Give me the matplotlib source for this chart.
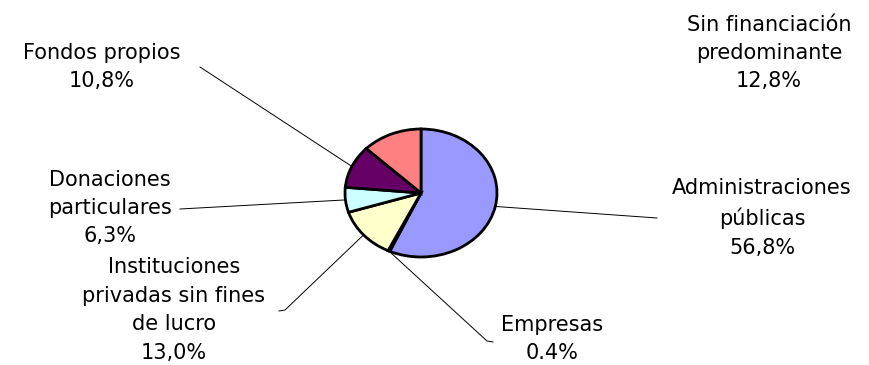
import matplotlib
matplotlib.use("Agg")
import matplotlib.pyplot as plt
import numpy as np

# data
categories = ['Administraciones\npúblicas', 'Empresas', 'Instituciones\nprivadas sin fines\nde lucro',
              'Donaciones\nparticulares', 'Fondos propios', 'Sin financiación\npredominante']
values = [56.8, 0.4, 13.0, 6.3, 10.8, 12.8]
pct_labels = ['56,8%', '0.4%', '13,0%', '6,3%', '10,8%', '12,8%']
colors = ['#9999FF', '#000080', '#FFFFCC', '#CCFFFF', '#660066', '#FF8080']

W, H = 869, 365
CX, CY, RX, RY = 421, 193, 76, 64  # pie centre and radii in pixels


def px(x, y):
    # pixel position -> data coords (pie of radius 1 at origin)
    return (x - CX) / RX, (CY - y) / RY


fig = plt.figure(figsize=(W / 100, H / 100), dpi=100)
ax = fig.add_axes([0, 0, 1, 1])
wedges, _ = ax.pie(values, colors=colors, startangle=90, counterclock=False,
                   wedgeprops=dict(edgecolor='black', linewidth=2.0))
ax.set_aspect('auto')
ax.set_xlim(px(0, 0)[0], px(W, 0)[0])
ax.set_ylim(px(0, H)[1], px(0, 0)[1])
ax.axis('off')

# label text centre (px) and leader points after the wedge edge (px)
label_pos = [(762, 218), (552, 339), (174, 310), (110, 208), (102, 67), (769, 53)]
leaders = [[(657, 218)], [(487, 341), (493, 342)], [(285, 310), (279, 311)],
           [(180, 209)], [(200, 67)], []]

for w, cat, pct, lp, pts in zip(wedges, categories, pct_labels, label_pos, leaders):
    if pts:
        mid = np.deg2rad((w.theta1 + w.theta2) / 2)
        xs = [np.cos(mid)] + [px(*p)[0] for p in pts]
        ys = [np.sin(mid)] + [px(*p)[1] for p in pts]
        ax.plot(xs, ys, color='black', linewidth=0.7, zorder=0)
    tx, ty = px(*lp)
    ax.text(tx, ty, cat + '\n' + pct, ha='center', va='center', fontsize=15,
            family='DejaVu Sans', linespacing=1.53, color='black')

fig.savefig('out.png', dpi=100)
